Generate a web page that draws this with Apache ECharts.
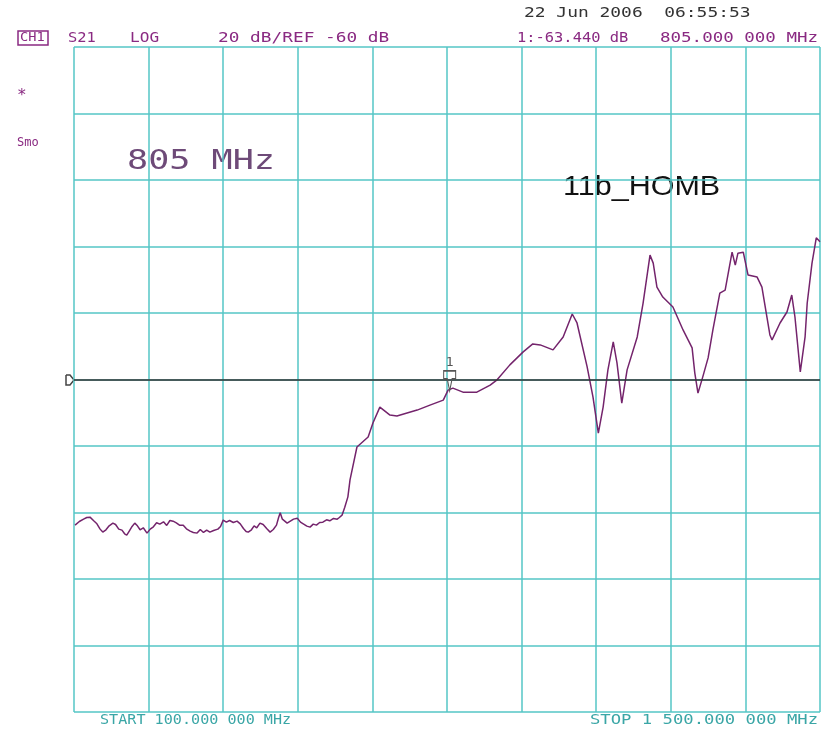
<!DOCTYPE html>
<html>
<head>
<meta charset="utf-8">
<script src="https://cdn.jsdelivr.net/npm/echarts@6/dist/echarts.min.js"></script>
<style>
  html, body { margin: 0; padding: 0; background: #fff; }
  #tu { width: 823px; height: 731px; }
</style>
</head>
<body>
<div id="tu"></div>
<script>
// sweep 100 - 1500 MHz, 20 dB/div, ref -60 dB
var freqMHz = [102, 110, 118, 124, 130, 137, 143, 149, 154, 160, 166, 173, 178, 184, 190, 195, 199, 204, 209, 214,
    219, 224, 230, 237, 243, 249, 255, 261, 268, 274, 280, 286, 292, 298, 305, 311, 318, 324, 331, 337,
    343, 349, 355, 362, 370, 375, 380, 386, 392, 399, 406, 412, 418, 423, 427, 433, 438, 443, 449, 455,
    462, 468, 474, 480, 484, 487, 491, 495, 500, 506, 512, 519, 525, 531, 537, 543, 549, 555, 561, 567,
    574, 580, 587, 594, 598, 603, 608, 614,
    618, 631, 652, 661, 674, 693, 706, 744, 768, 793, 802, 811, 830, 856,
    881, 894, 918, 943, 961, 975, 999, 1018, 1035, 1044, 1063, 1074, 1084, 1093, 1102, 1112, 1119, 1128, 1138, 1157,
    1168, 1181, 1187, 1194, 1205, 1224, 1243, 1260, 1265, 1271, 1280, 1290, 1299, 1312, 1322, 1335, 1341, 1346, 1356, 1365,
    1382, 1391, 1406, 1410, 1425, 1438, 1447, 1453, 1463, 1472, 1476, 1485, 1493, 1500];
var s21dB = [-103.8, -102.7, -102.0, -101.5, -101.4, -102.5, -103.4, -105.0, -105.9, -105.2, -104.0, -103.2, -103.6, -105.0, -105.3, -106.4, -106.8, -105.5, -104.2, -103.2,
    -104.0, -105.2, -104.6, -106.2, -105.0, -104.3, -103.1, -103.5, -102.8, -103.9, -102.4, -102.6, -103.1, -103.8, -103.8, -104.9, -105.6, -106.0, -106.2, -105.1,
    -106.0, -105.3, -105.9, -105.4, -105.0, -104.2, -102.3, -102.9, -102.4, -103.0, -102.6, -103.4, -104.8, -105.7, -105.9, -105.2, -104.0, -104.6, -103.2, -103.6,
    -104.9, -105.9, -105.1, -103.8, -101.5, -100.1, -102.0, -102.5, -103.2, -102.6, -102.0, -101.7, -102.9, -103.5, -104.1, -104.4, -103.5, -103.8, -103.0, -102.9,
    -102.2, -102.5, -101.8, -102.0, -101.5, -100.8, -98.5, -95.3,
    -90.2, -80.3, -77.3, -73.1, -68.3, -70.7, -71.0, -69.2, -67.7, -66.2, -63.2, -62.6, -63.8, -63.8,
    -61.7, -60.1, -55.6, -51.7, -49.3, -49.6, -51.1, -47.2, -40.3, -43.0, -56.2, -65.3, -76.1, -68.3, -57.1, -48.7, -55.0, -67.1, -57.1, -47.2,
    -37.0, -22.6, -25.0, -32.2, -35.2, -38.2, -45.1, -50.5, -58.0, -64.1, -59.2, -53.5, -45.1, -34.0, -33.1, -21.7, -25.6, -22.0, -21.7, -28.6,
    -29.2, -32.2, -46.6, -48.1, -43.0, -39.7, -34.6, -41.2, -57.7, -47.2, -37.0, -25.0, -17.4, -18.6];

var startMHz = 100, stopMHz = 1500, perDivMHz = 140;
var refDB = -60, perDivDB = 20, bottomDB = -160, topDB = 40;
var markerMHz = 805, markerDB = -63.44;

var trace = freqMHz.map(function (f, i) { return [f, s21dB[i]]; });

var mono = '"DejaVu Sans Mono", monospace';
var purple = '#8a2a82';
var teal = '#3aa6a6';

function txt(x, y, s, color, size, sx, font) {
    return {
        type: 'text', x: x, y: y, scaleX: sx || 1,
        style: { text: s, fill: color, font: (size || 14) + 'px ' + (font || mono), textVerticalAlign: 'middle' }
    };
}

var myChart = echarts.init(document.getElementById('tu'));

var option = {
    animation: false,
    backgroundColor: '#fff',
    grid: { left: 74, top: 47, width: 746, height: 665, containLabel: false },
    xAxis: {
        type: 'value', min: startMHz, max: stopMHz, interval: perDivMHz,
        axisLine: { show: false }, axisTick: { show: false }, axisLabel: { show: false },
        splitLine: { show: true, lineStyle: { color: '#55c6c6', width: 1.5 } }
    },
    yAxis: {
        type: 'value', min: bottomDB, max: topDB, interval: perDivDB,
        axisLine: { show: false }, axisTick: { show: false }, axisLabel: { show: false },
        splitLine: { show: true, lineStyle: { color: '#55c6c6', width: 1.5 } }
    },
    series: [{
        type: 'line',
        data: trace,
        showSymbol: false,
        lineStyle: { color: '#74246c', width: 1.5 },
        markLine: {
            silent: true, symbol: 'none', label: { show: false },
            lineStyle: { color: '#333', width: 1.5, type: 'solid' },
            data: [{ yAxis: refDB }]
        },
        markPoint: {
            symbol: 'path://M0,0 L10,0 L10,4 L7,4 L5,10 L3,4 L0,4 Z',
            symbolSize: [12, 20],
            symbolOffset: [0, -10],
            itemStyle: { color: 'rgba(255,255,255,0)', borderColor: '#555', borderWidth: 1.3 },
            label: { show: true, position: 'top', distance: 1, formatter: '1', color: '#555', fontSize: 13, fontFamily: mono },
            data: [{ coord: [markerMHz, markerDB] }]
        }
    }],
    graphic: [
        { type: 'rect', shape: { x: 18, y: 31, width: 30, height: 14 }, style: { fill: 'none', stroke: purple, lineWidth: 1.5 } },
        txt(20, 38, 'CH1', purple, 13, 1.05),
        txt(68, 38, 'S21', purple, 14, 1.1),
        txt(130, 38, 'LOG', purple, 14, 1.15),
        txt(218, 38, '20 dB/REF -60 dB', purple, 14, 1.27),
        txt(524, 13, '22 Jun 2006  06:55:53', '#333', 14, 1.28),
        txt(517, 38, '1:-63.440 dB', purple, 14, 1.1),
        txt(660, 38, '805.000 000 MHz', purple, 14, 1.25),
        txt(17, 96, '*', purple, 16, 1),
        txt(17, 143, 'Smo', purple, 12, 1),
        txt(127, 162, '805 MHz', '#6e4a78', 27, 1.3),
        txt(563, 187, '11b_HOMB', '#111', 28, 1.09, '"Liberation Sans", Arial, sans-serif'),
        txt(100, 720, 'START 100.000 000 MHz', teal, 14, 1.08),
        txt(590, 720, 'STOP 1 500.000 000 MHz', teal, 14, 1.23),
        { type: 'polyline', shape: { points: [[66, 375], [70, 375], [74, 380], [70, 385], [66, 385], [66, 375]] }, style: { stroke: '#444', fill: 'none', lineWidth: 1.5 } }
    ]
};

myChart.setOption(option);
</script>
</body>
</html>
